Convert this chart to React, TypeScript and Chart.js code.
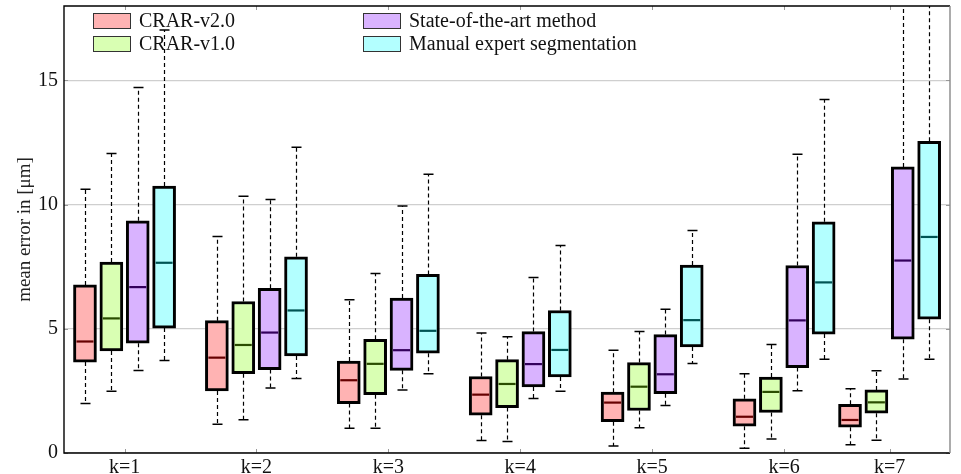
import React, { useEffect, useRef } from 'react';
import { Chart, registerables } from 'chart.js';

Chart.register(...registerables);

// ---------- data ----------
const categories = ['k=1', 'k=2', 'k=3', 'k=4', 'k=5', 'k=6', 'k=7'];
const groupPositions = [1, 2, 3, 4, 5, 6, 6.8];
const yTicks = [0, 5, 10, 15];

const seriesNames = ['CRAR-v2.0', 'CRAR-v1.0', 'State-of-the-art method', 'Manual expert segmentation'];
const seriesFill = ['#ffb3b3', '#d9ffb3', '#d9b3ff', '#b3ffff'];
const seriesMedian = ['#660000', '#2a4d00', '#33005c', '#005454'];

// CRAR-v2.0
const v2Low = [1.99, 1.16, 1.0, 0.5, 0.28, 0.19, 0.33];
const v2Q1 = [3.66, 2.5, 1.99, 1.52, 1.26, 1.08, 1.04];
const v2Med = [4.49, 3.84, 2.93, 2.35, 2.03, 1.46, 1.33];
const v2Q3 = [6.77, 5.33, 3.7, 3.08, 2.45, 2.18, 1.96];
const v2High = [10.62, 8.72, 6.17, 4.83, 4.14, 3.19, 2.59];

// CRAR-v1.0
const v1Low = [2.49, 1.34, 1.0, 0.46, 1.02, 0.56, 0.51];
const v1Q1 = [4.11, 3.19, 2.35, 1.83, 1.71, 1.63, 1.6];
const v1Med = [5.42, 4.35, 3.59, 2.78, 2.67, 2.46, 2.04];
const v1Q3 = [7.69, 6.1, 4.58, 3.76, 3.64, 3.06, 2.54];
const v1High = [12.06, 10.34, 7.23, 4.68, 4.89, 4.37, 3.31];

// State-of-the-art method
const sotaLow = [3.32, 2.62, 2.54, 2.19, 1.91, 2.51, 2.98];
const sotaQ1 = [4.42, 3.36, 3.33, 2.66, 2.39, 3.44, 4.58];
const sotaMed = [6.68, 4.85, 4.14, 3.58, 3.17, 5.34, 7.75];
const sotaQ3 = [9.35, 6.63, 6.24, 4.89, 4.77, 7.55, 11.52];
const sotaHigh = [14.72, 10.21, 9.95, 7.07, 5.79, 12.03, 20.5];

// Manual expert segmentation
const manLow = [3.72, 3.0, 3.19, 2.49, 3.6, 3.78, 3.78];
const manQ1 = [5.03, 3.91, 4.02, 3.06, 4.27, 4.79, 5.39];
const manMed = [7.66, 5.74, 4.92, 4.15, 5.35, 6.87, 8.7];
const manQ3 = [10.75, 7.9, 7.19, 5.74, 7.57, 9.31, 12.55];
const manHigh = [17.03, 12.31, 11.22, 8.36, 8.96, 14.23, 21.0];

const lows = [v2Low, v1Low, sotaLow, manLow];
const q1s = [v2Q1, v1Q1, sotaQ1, manQ1];
const meds = [v2Med, v1Med, sotaMed, manMed];
const q3s = [v2Q3, v1Q3, sotaQ3, manQ3];
const highs = [v2High, v1High, sotaHigh, manHigh];

// ---------- layout constants ----------
const FONT = '"Liberation Serif", "DejaVu Serif", serif';
const BOX_SPREAD = 0.2;
const BOX_BORDER = 3;

const boxPlugin = {
  id: 'boxExtras',
  beforeDatasetsDraw(chart: any) {
    const { ctx, chartArea: a, scales } = chart;
    const y = scales.y;
    ctx.save();
    ctx.beginPath();
    ctx.rect(a.left, a.top, a.right - a.left, a.bottom - a.top);
    ctx.clip();
    ctx.strokeStyle = '#000';
    for (let s = 0; s < seriesNames.length; s++) {
      const meta = chart.getDatasetMeta(s);
      meta.data.forEach((bar: any, i: number) => {
        const cx = Math.round(bar.x) + 0.5;
        const pLo = y.getPixelForValue(lows[s][i]);
        const pQ1 = y.getPixelForValue(q1s[s][i]);
        const pQ3 = y.getPixelForValue(q3s[s][i]);
        const pHi = y.getPixelForValue(highs[s][i]);
        ctx.setLineDash([4, 3]);
        ctx.lineWidth = 1.2;
        ctx.beginPath();
        ctx.moveTo(cx, pQ3);
        ctx.lineTo(cx, pHi);
        ctx.moveTo(cx, pQ1);
        ctx.lineTo(cx, pLo);
        ctx.stroke();
        ctx.setLineDash([]);
        ctx.lineWidth = 1.5;
        ctx.beginPath();
        ctx.moveTo(cx - 5, pHi);
        ctx.lineTo(cx + 5, pHi);
        ctx.moveTo(cx - 5, pLo);
        ctx.lineTo(cx + 5, pLo);
        ctx.stroke();
      });
    }
    ctx.restore();
  },
  afterDatasetsDraw(chart: any) {
    const { ctx, scales } = chart;
    const y = scales.y;
    ctx.save();
    for (let s = 0; s < seriesNames.length; s++) {
      const meta = chart.getDatasetMeta(s);
      meta.data.forEach((bar: any, i: number) => {
        const half = bar.width / 2 - BOX_BORDER;
        const pMed = y.getPixelForValue(meds[s][i]);
        ctx.strokeStyle = seriesMedian[s];
        ctx.lineWidth = 2.2;
        ctx.beginPath();
        ctx.moveTo(bar.x - half, pMed);
        ctx.lineTo(bar.x + half, pMed);
        ctx.stroke();
      });
    }
    ctx.restore();
  },
  afterDraw(chart: any) {
    const { ctx, chartArea: a, scales } = chart;
    const x = scales.x;
    const y = scales.y;
    ctx.save();
    // inward tick marks
    ctx.strokeStyle = '#999';
    ctx.lineWidth = 1;
    ctx.beginPath();
    groupPositions.forEach((p) => {
      const px = Math.round(x.getPixelForValue(p)) + 0.5;
      ctx.moveTo(px, a.top);
      ctx.lineTo(px, a.top + 4);
      ctx.moveTo(px, a.bottom);
      ctx.lineTo(px, a.bottom - 4);
    });
    yTicks.forEach((t) => {
      const py = Math.round(y.getPixelForValue(t)) + 0.5;
      ctx.moveTo(a.left, py);
      ctx.lineTo(a.left + 4, py);
      ctx.moveTo(a.right, py);
      ctx.lineTo(a.right - 4, py);
    });
    ctx.stroke();
    // frame
    ctx.lineWidth = 1.4;
    ctx.strokeStyle = '#000';
    ctx.beginPath();
    ctx.moveTo(a.right, a.top);
    ctx.lineTo(a.left, a.top);
    ctx.lineTo(a.left, a.bottom);
    ctx.lineTo(a.right, a.bottom);
    ctx.stroke();
    ctx.strokeStyle = '#888';
    ctx.beginPath();
    ctx.moveTo(a.right, a.top);
    ctx.lineTo(a.right, a.bottom);
    ctx.stroke();
    // legend (two columns, column-major)
    ctx.font = `20px ${FONT}`;
    ctx.textBaseline = 'middle';
    ctx.textAlign = 'left';
    const colX = [a.left + 29, a.left + 299];
    const rowY = [a.top + 7, a.top + 30];
    seriesNames.forEach((name, s) => {
      const col = Math.floor(s / 2);
      const row = s % 2;
      const bx = colX[col];
      const by = rowY[row];
      ctx.fillStyle = seriesFill[s];
      ctx.fillRect(bx, by, 38, 16);
      ctx.strokeStyle = '#333';
      ctx.lineWidth = 1;
      ctx.strokeRect(bx + 0.5, by + 0.5, 37, 15);
      ctx.fillStyle = '#111';
      ctx.fillText(name, bx + 46, by + 9);
    });
    ctx.restore();
  },
};

export default function App() {
  const canvasRef = useRef<HTMLCanvasElement | null>(null);

  useEffect(() => {
    if (!canvasRef.current) return;
    const datasets = seriesNames.map((name, s) => ({
      label: name,
      data: groupPositions.map((p, i) => ({
        x: p + (s - 1.5) * BOX_SPREAD,
        y: [q1s[s][i], q3s[s][i]],
      })),
      backgroundColor: seriesFill[s],
      borderColor: '#000',
      borderWidth: BOX_BORDER,
      borderSkipped: false,
      barThickness: 23,
      grouped: false,
    }));

    const chart = new Chart(canvasRef.current, {
      type: 'bar',
      data: { datasets: datasets as any },
      options: {
        animation: false,
        responsive: true,
        maintainAspectRatio: false,
        parsing: { xAxisKey: 'x', yAxisKey: 'y' } as any,
        layout: { padding: { left: 0, right: 11, top: 6, bottom: 0 } },
        plugins: {
          legend: { display: false },
          tooltip: { enabled: false },
        },
        scales: {
          x: {
            type: 'linear',
            min: 0.541,
            max: 7.258,
            offset: false,
            grid: { display: false, drawTicks: false },
            border: { display: false },
            afterBuildTicks: (scale: any) => {
              scale.ticks = groupPositions.map((v) => ({ value: v }));
            },
            afterFit: (scale: any) => {
              scale.height = 21;
              scale.paddingLeft = 0;
              scale.paddingRight = 0;
            },
            ticks: {
              autoSkip: false,
              maxRotation: 0,
              padding: 3,
              color: '#111',
              font: { family: FONT, size: 20 },
              callback: (_v: any, index: number) => categories[index],
            },
          },
          y: {
            type: 'linear',
            min: 0,
            max: 18,
            afterBuildTicks: (scale: any) => {
              scale.ticks = yTicks.map((v) => ({ value: v }));
            },
            afterFit: (scale: any) => {
              scale.width = 64;
              scale.paddingTop = 0;
              scale.paddingBottom = 0;
            },
            grid: { color: '#cfcfcf', lineWidth: 1.2, drawTicks: false },
            border: { display: false },
            ticks: {
              padding: 6,
              color: '#111',
              font: { family: FONT, size: 20 },
            },
            title: {
              display: true,
              text: 'mean error in [μm]',
              color: '#222',
              font: { family: FONT, size: 19 },
              padding: { top: 14, bottom: 0 },
            },
          },
        },
      },
      plugins: [boxPlugin],
    });
    return () => chart.destroy();
  }, []);

  return (
    <div style={{ position: 'fixed', left: 0, top: 0, width: 961, height: 474, background: '#fff' }}>
      <canvas ref={canvasRef} />
    </div>
  );
}
